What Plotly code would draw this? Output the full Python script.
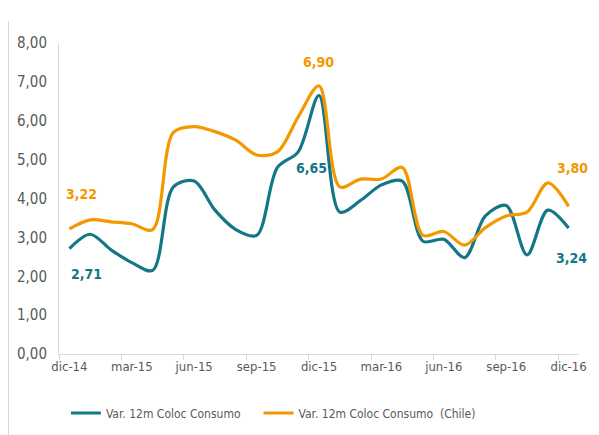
import plotly.graph_objects as go

months = ["dic-14", "ene-15", "feb-15", "mar-15", "abr-15", "may-15", "jun-15", "jul-15",
          "ago-15", "sep-15", "oct-15", "nov-15", "dic-15", "ene-16", "feb-16", "mar-16",
          "abr-16", "may-16", "jun-16", "jul-16", "ago-16", "sep-16", "oct-16", "nov-16", "dic-16"]

consumo = [2.71, 3.08, 2.68, 2.35, 2.15, 4.30, 4.45, 3.70, 3.20, 3.05, 4.80, 5.20, 6.65,
           3.65, 3.95, 4.35, 4.45, 2.90, 2.95, 2.48, 3.55, 3.82, 2.55, 3.70, 3.24]

chile = [3.22, 3.45, 3.40, 3.35, 3.20, 5.70, 5.85, 5.72, 5.50, 5.12, 5.20, 6.10, 6.90,
         4.30, 4.50, 4.50, 4.80, 3.05, 3.15, 2.80, 3.25, 3.55, 3.65, 4.40, 3.80]

tick_months = ["dic-14", "mar-15", "jun-15", "sep-15", "dic-15", "mar-16", "jun-16", "sep-16", "dic-16"]
y_ticks = [0, 1, 2, 3, 4, 5, 6, 7, 8]

label_points = [0, 12, 24]

TEAL = "#137787"
ORANGE = "#F39800"
GRAY = "#595959"
FONT = "DejaVu Sans Condensed, Roboto, sans-serif"

x = list(range(len(months)))

fig = go.Figure()
fig.add_trace(go.Scatter(x=x, y=consumo, mode="lines", name="Var. 12m Coloc Consumo",
                         legend="legend",
                         line=dict(color=TEAL, width=3.2, shape="spline", smoothing=0.9)))
fig.add_trace(go.Scatter(x=x, y=chile, mode="lines", name="Var. 12m Coloc Consumo  (Chile)",
                         legend="legend2",
                         line=dict(color=ORANGE, width=3.2, shape="spline", smoothing=0.9)))

annotations = []
teal_offsets = {0: (17, -25), 12: (-8, -73), 24: (3, -30)}
orange_offsets = {0: (12, 35), 12: (-1, 24), 24: (4, 38)}
for i in label_points:
    dx, dy = teal_offsets[i]
    annotations.append(dict(x=i, y=consumo[i], text=f"{consumo[i]:.2f}".replace(".", ","),
                            showarrow=False, xshift=dx, yshift=dy,
                            font=dict(family=FONT, size=14, color=TEAL, weight="bold")))
    dx, dy = orange_offsets[i]
    annotations.append(dict(x=i, y=chile[i], text=f"{chile[i]:.2f}".replace(".", ","),
                            showarrow=False, xshift=dx, yshift=dy,
                            font=dict(family=FONT, size=14, color=ORANGE, weight="bold")))

legend_style = dict(orientation="h", xanchor="left", yref="container", y=0.0506, yanchor="middle",
                    font=dict(family=FONT, size=12, color=GRAY), itemwidth=30,
                    bgcolor="rgba(0,0,0,0)")

fig.update_layout(
    width=599, height=435,
    margin=dict(l=59, r=14, t=43, b=81),
    paper_bgcolor="white", plot_bgcolor="white",
    separators=",.",
    font=dict(family=FONT, size=13, color=GRAY),
    showlegend=True,
    legend=dict(x=0.0133, **legend_style),
    legend2=dict(x=0.3837, **legend_style),
    annotations=annotations,
    shapes=[dict(type="line", xref="paper", yref="paper", x0=-0.097, x1=-0.097, y0=-0.26, y1=1.07,
                 line=dict(color="#d9d9d9", width=1))],
)

fig.update_xaxes(
    range=[-0.5, 24.5], tickmode="array",
    tickvals=[months.index(m) for m in tick_months], ticktext=tick_months,
    ticks="", showgrid=False, zeroline=False,
    showline=True, linecolor="#d9d9d9", linewidth=1,
    tickfont=dict(family=FONT, size=13, color=GRAY),
    minor=dict(tick0=-0.5, dtick=3, ticks="outside", ticklen=5, tickcolor="#d9d9d9", showgrid=False),
)
fig.update_yaxes(
    range=[0, 8], tickmode="array", tickvals=y_ticks, tickformat=".2f",
    ticks="", showgrid=False, zeroline=False,
    showline=True, linecolor="#d9d9d9", linewidth=1,
    tickfont=dict(family=FONT, size=15, color=GRAY), ticklabelstandoff=8,
)

fig.write_html("out.html", config={"displayModeBar": False},
               post_script="document.body.style.margin='0';document.body.style.padding='0';")
